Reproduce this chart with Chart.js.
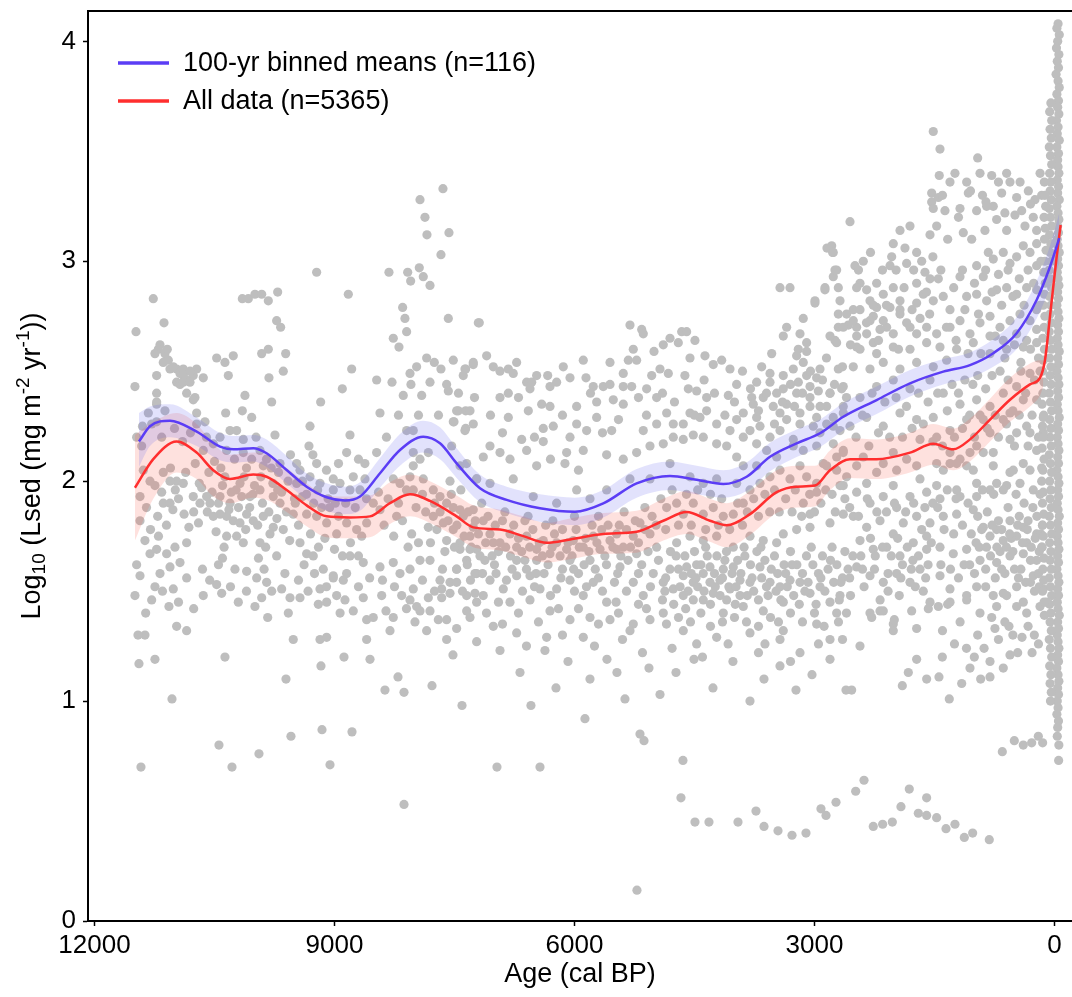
<!DOCTYPE html>
<html>
<head>
<meta charset="utf-8">
<script src="https://cdn.jsdelivr.net/npm/chart.js@4.4.1/dist/chart.umd.min.js"></script>
<style>
  html, body { margin: 0; padding: 0; background: #fff; overflow: hidden; }
  canvas { display: block; }
</style>
</head>
<body>
<canvas id="chart" width="1072" height="997"></canvas>
<script>
// axis ticks
const xTicks = [12000, 9000, 6000, 3000, 0];
const yTicks = [0, 1, 2, 3, 4];

// 100-yr binned means: smooth fit + confidence band
const blueAge  = [11444,11306,11056,10722,10431,10265,10015,9848,9598,9348,9098,8869,8681,8431,8181,7890,7681,7473,7181,6848,6431,5994,5640,5223,4806,4473,4140,3848,3556,3223,2931,2640,2223,1806,1390,1056,765,473,223,56,-60];
const blueMean = [2.18,2.25,2.275,2.225,2.157,2.145,2.15,2.127,2.051,1.975,1.927,1.912,1.93,2.036,2.142,2.202,2.172,2.081,1.968,1.915,1.877,1.861,1.899,1.99,2.024,2.006,1.987,2.02,2.111,2.172,2.218,2.293,2.369,2.445,2.498,2.528,2.582,2.673,2.824,2.975,3.105];
const blueLo   = [2.065,2.16,2.20,2.16,2.095,2.085,2.09,2.065,1.99,1.915,1.865,1.85,1.865,1.97,2.07,2.13,2.10,2.015,1.905,1.855,1.815,1.80,1.835,1.925,1.96,1.94,1.925,1.955,2.045,2.11,2.155,2.23,2.305,2.385,2.44,2.47,2.52,2.60,2.74,2.88,2.99];
const blueHi   = [2.31,2.34,2.35,2.29,2.22,2.205,2.21,2.19,2.115,2.035,1.99,1.975,1.995,2.105,2.215,2.275,2.245,2.15,2.03,1.975,1.94,1.925,1.96,2.055,2.09,2.07,2.05,2.085,2.175,2.235,2.28,2.355,2.43,2.505,2.555,2.585,2.645,2.745,2.91,3.07,3.22];

// all data: smooth fit + confidence band
const redAge  = [11494,11265,10973,10723,10515,10306,10015,9848,9598,9348,9098,8806,8556,8306,8056,7806,7473,7265,6931,6640,6348,6056,5640,5223,4890,4598,4306,4098,3806,3473,3223,2994,2806,2556,2223,1806,1515,1265,1056,806,556,306,181,119,56,-27,-77];
const redMean = [1.97,2.10,2.18,2.13,2.05,2.01,2.03,2.02,1.96,1.89,1.84,1.835,1.84,1.90,1.94,1.91,1.84,1.79,1.78,1.75,1.72,1.735,1.76,1.77,1.82,1.86,1.82,1.80,1.85,1.95,1.975,1.98,2.05,2.10,2.10,2.13,2.17,2.145,2.19,2.28,2.37,2.44,2.47,2.55,2.75,3.02,3.165];
const redBandAge = [11494,11265,10973,10723,10515,10306,10015,9848,9598,9348,9098,8806,8556,8306,8056,7806,7473,7265,6931,6640,6348,6056,5640,5223,4890,4598,4306,4098,3806,3473,3223,2994,2806,2556,2223,1806,1515,1265,1056,806,556,306,181,140];
const redLo   = [1.73,1.92,2.04,2.01,1.93,1.90,1.925,1.915,1.86,1.795,1.745,1.74,1.745,1.805,1.84,1.81,1.745,1.70,1.685,1.655,1.63,1.645,1.67,1.675,1.73,1.76,1.725,1.70,1.755,1.855,1.88,1.885,1.96,2.015,2.01,2.04,2.075,2.05,2.09,2.18,2.27,2.34,2.39,2.43];
const redHi   = [2.21,2.27,2.31,2.26,2.17,2.12,2.13,2.12,2.06,1.99,1.935,1.93,1.935,1.995,2.03,2.00,1.935,1.89,1.87,1.84,1.81,1.83,1.855,1.865,1.92,1.955,1.92,1.90,1.955,2.05,2.07,2.07,2.14,2.195,2.19,2.22,2.26,2.24,2.285,2.375,2.47,2.535,2.55,2.55];

// individual samples [age cal BP, log10 Lsed]
const ptsEarly = [
[11481,2.68],[11265,2.83],[11131,2.72],[11494,2.43],
[11181,2.62],[11202,2.60],[11119,2.58],[11077,2.55],[11140,2.54],[11056,2.51],[10973,2.51],[10931,2.49],[10890,2.48],[10848,2.46],
[10973,2.45],[10931,2.44],[10765,2.48],[10723,2.51],[10640,2.47],[11223,2.48],[11244,2.58],[11090,2.60],[11015,2.52],[10890,2.51],
[10806,2.50],[10890,2.45],[10806,2.45],[10744,2.38],[10848,2.40],[11223,2.40],[11223,2.35],[10723,2.31],[10765,2.37],
[10473,2.56],[10369,2.54],[10265,2.57],[10327,2.48],[10119,2.39],[10360,2.31],[10152,2.32],[10035,2.29],[9910,2.58],[9827,2.60],
[9610,2.58],[9819,2.47],[9640,2.50],[9785,2.36],[10152,2.83],[10077,2.83],[9994,2.85],[9910,2.85],[9827,2.82],[9710,2.86],
[9723,2.73],[9673,2.70],[9223,2.95],[8827,2.85],[8785,2.51],[8902,2.42],[9173,2.36],[9306,2.25],[8806,2.21],[9319,2.16],[8848,2.13],
[11327,2.31],[11285,2.26],[11410,2.16],[11473,2.20],[11223,2.27],[11119,2.32],[11223,2.36],[10723,2.26],[10619,2.27],[10640,2.14],
[10515,2.17],[10431,2.20],[10306,2.23],[10223,2.23],[10140,2.19],[10348,2.14],[10140,2.13],[10035,2.10],[9931,2.14],[9890,2.07],
[9744,2.21],[9681,2.08],[9473,2.08],[9431,2.05],[9306,2.02],[9223,2.08],[9181,1.99],[9015,2.01],[8931,1.99],[8765,2.02],[8619,2.01],
[8806,1.96],[8681,1.96],[9473,1.99],[9015,1.96],
[11431,1.93],[11431,1.82],[11369,1.73],[10431,1.85],[10515,1.84],[10348,1.84],[10265,1.82],[10181,1.81],[10098,1.85],[10015,1.82],
[9890,1.84],[9765,1.79],[9640,1.78],[9806,1.76],[10348,1.75],[10223,1.75],[10140,1.72],[9931,1.72],[9723,1.66],[9431,1.72],[9348,1.67],
[9265,1.66],[9140,1.60],[9015,1.57],[8890,1.55],[8848,1.58],[8806,1.66],[8640,1.63],
[10973,2.00],[11056,2.00],[11140,1.90],[11056,1.90],[11140,2.04],[11244,1.98],[11306,2.00],[10890,1.99],[10765,1.93],[10681,1.90],
[10598,1.93],[10556,1.90],[10431,1.93],[10306,1.90],[10181,1.99],[10056,1.93],[9931,1.96],[9765,1.93],[9681,1.90],[9515,1.85],
[9348,1.85],[9223,1.84],[9098,1.81],[8973,1.76],[8848,1.81],[8723,1.78],[8598,1.81],
[11473,1.62],[11431,1.57],[11306,1.67],[11223,1.69],[11098,1.67],[10994,1.70],[10931,1.63],[10848,1.72],[11181,1.58],[11056,1.61],
[10848,1.56],[10244,1.60],[10098,1.59],[9973,1.56],
[11494,1.48],[11285,1.46],[11244,1.52],[11015,1.51],[11069,1.43],[10640,1.48],[10473,1.53],[10410,1.49],[10202,1.45],[9994,1.43],
[9910,1.47],[9848,1.54],[9785,1.50],[9660,1.51],[9556,1.47],[9431,1.47],[9577,1.40],[9835,1.38],[9515,1.28],[9202,1.44],[9098,1.45],
[9181,1.51],[9015,1.56],[8973,1.48],[8869,1.46],[8765,1.41],[8640,1.47],[8598,1.37],
[10973,1.34],[10848,1.32],[11369,1.30],[9181,1.28],[9098,1.29],
[11444,1.17],[11244,1.19],[11031,1.01],[11419,0.70],[10444,0.80],[10281,0.70],[9944,0.76],[10369,1.20],[9606,1.10],[9544,0.84],
[9156,0.87],[9056,0.71],[8781,0.86],[9169,1.16],[8881,1.20],[11456,1.30],[8556,1.19],
[11390,2.05],[11350,1.88],[11300,1.78],[11210,1.84],[11160,1.95],[11100,1.80],[11020,1.87],[10950,1.92],[10880,1.85],[10820,1.79],
[10760,1.86],[10700,1.81],[10660,1.97],[10590,1.86],[10530,1.95],[10480,1.77],[10400,1.98],[10380,1.70],[10320,1.87],[10290,1.95],
[10200,1.88],[10160,1.93],[10110,1.78],[10060,1.88],[10000,1.98],[9960,1.80],[9900,1.90],[9860,1.70],[9820,1.86],[9770,1.99],
[9720,1.83],[9660,1.95],[9600,1.86],[9560,1.73],[9500,1.92],[9450,1.80],[9400,1.93],[9380,1.62],[9300,1.76],[9260,1.90],[9200,1.70],
[9160,1.88],[9120,1.74],[9060,1.88],[9000,1.69],[8950,1.84],[8900,1.66],[8860,1.90],[8800,1.72],[8740,1.88],[8700,1.66],[8660,1.75],
[8600,1.92],[8560,1.56],
[11400,2.25],[11160,2.20],[11000,2.24],[10900,2.18],[10800,2.22],[10600,2.20],[10500,2.09],[10420,2.06],[10250,2.10],[10100,2.06],
[9980,2.20],[9850,2.10],[9700,2.04],[9550,2.12],[9400,2.00],[9270,2.12],[9100,2.05],[8950,2.08],[8700,2.10],[8620,2.08],
[11360,1.40],[11150,1.50],[10950,1.45],[10760,1.42],[10560,1.55],[10300,1.52],[10100,1.50],[9880,1.60],[9620,1.58],[9450,1.55],
[9330,1.50],[9100,1.52],[8930,1.40],[8700,1.52],[10650,1.60],[10450,1.62],[9950,1.65],[9250,1.58],[11200,1.75],[10400,1.65],
[11050,2.06],[10990,1.96],[10860,2.04],[10740,2.08],[10690,1.99],[10570,2.04],[10450,1.90],[10370,2.02],[10230,1.96],[10130,2.02],
[10020,1.94],[9920,2.02],[9790,2.06],[9710,1.96],[9580,2.00],[9490,1.90],[9350,1.94],[9210,1.96],[9080,1.92],[8990,1.90]
];

const ptsMid = [
[8473,2.46],[8281,2.45],[8140,2.39],[8431,2.31],[8148,2.79],[8119,2.74],[8265,2.65],[8194,2.61],[8098,2.68],[8056,2.49],[7973,2.52],
[8044,2.44],[7910,2.39],[7848,2.56],[7752,2.54],[7669,2.51],[7806,2.45],[7598,2.44],[7577,2.41],[7577,2.74],[8319,2.95],[8085,2.95],
[7940,2.97],[7890,2.93],[7806,2.89],[8048,2.91],[7669,3.03],[7515,2.55],[7360,2.51],[7265,2.53],[7390,2.48],[7452,2.32],[7360,2.32],
[7506,2.27],[7360,2.24],[7202,2.72],[7931,3.28],[7644,3.33],[7869,3.20],[7569,3.13],[7844,3.12],
[8473,2.13],[8015,2.13],[7931,2.10],[7827,2.13],[8015,2.23],[8098,2.23],[7535,2.16],[7348,2.08],[7223,2.01],[7556,2.00],[8015,2.07],
[8181,1.99],[8265,2.01],[8056,2.02],[7890,2.01],[8015,1.96],[7765,1.96],[7681,1.93],[7598,1.90],[7431,1.87],[7265,1.87],[7765,1.84],
[7640,1.81],[7515,1.78],[7306,1.75],[7223,1.69],[7431,1.69],[7598,1.73],[7827,1.79],[8035,1.76],[8223,1.84],[8431,1.87],[8515,1.90],
[8431,1.61],[8265,1.63],[8181,1.58],[8056,1.60],[7931,1.64],[7806,1.64],[7681,1.55],[7556,1.54],[7473,1.60],[7348,1.64],[7223,1.58],
[8410,1.48],[8356,1.41],[8265,1.38],[8306,1.32],[8160,1.48],[8056,1.46],[8015,1.51],[7973,1.43],[7931,1.41],[7827,1.47],[7806,1.41],
[7660,1.51],[7660,1.47],[7556,1.49],[7473,1.54],[7348,1.48],[7244,1.49],[7223,1.45],[7348,1.41],[7598,1.37],[7702,1.37],[7473,1.33],
[7994,1.36],[7848,1.32],[8598,1.28],[7598,1.28],[8515,1.38],
[8206,1.11],[8131,1.04],[7781,1.07],[8131,0.53],[7519,1.21],[7406,0.98],[8369,1.05],
[7190,2.72],[5306,2.71],[5160,2.69],[5140,2.67],[5265,2.60],[5006,2.59],[5556,2.54],[5327,2.55],[5223,2.55],[5390,2.49],[5035,2.48],
[5890,2.55],[6140,2.52],[6056,2.47],[5856,2.47],[6335,2.48],[6473,2.48],[6723,2.54],[7098,2.57],[7265,2.54],[7369,2.51],[7015,2.52],
[6931,2.50],[6827,2.51],[6765,2.49],[6598,2.45],[6535,2.45],[6306,2.43],[6223,2.45],[5765,2.43],[5640,2.43],[5556,2.44],[5390,2.43],
[5285,2.43],[5098,2.42],[6931,2.38],[6827,2.40],[6556,2.42],[6410,2.35],[6306,2.34],[5973,2.34],[5723,2.36],[5515,2.37],[5390,2.35],
[7306,2.32],[7473,2.32],[7369,2.23],[7515,2.27],[7265,2.26],[6827,2.29],[6577,2.32],[6390,2.24],[6265,2.25],[5973,2.26],[5723,2.29],
[5535,2.23],[5848,2.23],[6056,2.20],[6390,2.18],[6660,2.19],[7056,2.16],[7140,2.11],[6931,2.13],[6806,2.10],[6598,2.14],[6473,2.07],
[6098,2.13],[6119,2.08],[5890,2.14],[5598,2.12],[5390,2.10],[5223,2.13],[5056,2.16],[5140,2.23],
[7431,2.07],[7223,2.01],[7056,1.99],[6765,2.01],[6515,1.93],[6223,1.90],[5973,1.96],[5806,1.92],[5598,1.96],[5306,2.01],[5056,2.01],
[7515,1.88],[7390,1.84],[7265,1.79],[7140,1.82],[7056,1.76],[6931,1.72],[6806,1.76],[6723,1.70],[6598,1.75],[6473,1.69],[6390,1.73],
[6306,1.67],[6223,1.72],[6098,1.69],[6015,1.73],[5890,1.70],[5765,1.75],[5681,1.69],[5556,1.73],[5473,1.76],[5390,1.70],[5265,1.75],
[5181,1.81],[5056,1.76],
[7431,1.72],[7306,1.69],[7181,1.66],[7015,1.72],[6723,1.64],[6473,1.64],[6056,1.64],[5806,1.64],[5473,1.69],[5223,1.67],
[7473,1.60],[7244,1.58],[7056,1.55],[6890,1.51],[6723,1.57],[6556,1.57],[6431,1.51],[6223,1.51],[6056,1.55],[5890,1.48],[5765,1.54],
[5598,1.45],[5431,1.61],[5265,1.54],[5140,1.48],[5015,1.58],
[5056,1.37],[5265,1.35],[5556,1.37],[5806,1.38],[6056,1.37],[6306,1.41],[6556,1.46],[6806,1.45],[7140,1.48],[7306,1.38],[7015,1.34],
[6723,1.31],[6348,1.29],[5890,1.29],[5306,1.32],[7223,1.27],
[6931,1.23],[6681,1.13],[6369,1.23],[6231,1.06],[6081,1.18],[5806,1.10],[5594,1.19],[5369,1.01],[5469,1.13],[5069,1.15],[6544,0.98],
[5869,0.92],[5181,0.85],[5131,0.82],[6969,0.70],[6431,0.70],[5219,0.14],
[8450,1.95],[8380,1.80],[8330,1.92],[8260,1.75],[8200,1.90],[8150,1.82],[8100,1.96],[8080,1.70],[7980,1.88],[7950,1.72],[7900,1.94],
[7860,1.86],[7800,1.72],[7750,1.90],[7720,1.78],[7680,1.86],[7620,1.68],[7580,1.82],[7540,1.94],[7500,1.70],[7470,1.80],[7420,1.96],
[7380,1.75],[7330,1.86],[7290,1.70],[7240,1.82],[7200,1.76],[7160,1.90],[7110,1.72],[7080,1.84],[7030,1.66],[6990,1.80],[6950,1.68],
[6900,1.82],[6860,1.70],[6800,1.66],[6760,1.80],[6700,1.74],[6660,1.68],[6620,1.82],[6560,1.70],[6520,1.78],[6440,1.72],[6400,1.66],
[6360,1.80],[6280,1.70],[6250,1.76],[6180,1.66],[6150,1.78],[6080,1.72],[6030,1.66],[5980,1.78],[5940,1.70],[5860,1.74],[5820,1.68],
[5780,1.80],[5720,1.72],[5660,1.78],[5620,1.66],[5580,1.80],[5520,1.70],[5440,1.80],[5420,1.66],[5350,1.78],[5300,1.70],[5240,1.82],
[5200,1.72],[5120,1.78],[5080,1.68],[5030,1.84],
[8400,1.55],[8250,1.52],[8100,1.42],[7900,1.55],[7750,1.50],[7650,1.60],[7400,1.50],[7300,1.55],[7150,1.58],[7000,1.62],[6950,1.45],
[6850,1.55],[6650,1.50],[6600,1.60],[6500,1.52],[6380,1.58],[6300,1.48],[6150,1.60],[6000,1.50],[5950,1.58],[5850,1.52],[5700,1.56],
[5650,1.50],[5500,1.54],[5480,1.45],[5350,1.50],[5200,1.58],[5100,1.42],[5050,1.52],[7100,1.40],[6900,1.35],[6700,1.40],[6450,1.36],
[6200,1.42],[5950,1.42],[5700,1.35],[5450,1.40],[5200,1.44],[6600,1.25],[6150,1.30],[5750,1.25],[5400,1.28],[5150,1.22],
[8350,2.20],[8200,2.30],[7950,2.30],[7700,2.30],[7450,2.40],[7250,2.38],[7050,2.30],[6900,2.22],[6700,2.38],[6500,2.20],[6300,2.10],
[6150,2.30],[5950,2.05],[5800,2.40],[5650,2.22],[5450,2.28],[5200,2.38],[5100,2.30],
[7340,1.62],[7120,1.64],[6980,1.58],[6780,1.60],[6620,1.64],[6480,1.58],[6330,1.62],[6170,1.56],[6010,1.60],[5880,1.62],[5740,1.60],
[5600,1.62],[5460,1.58],[5330,1.64],[5160,1.62],[6870,1.86],[6580,1.84],[6270,1.82],[6000,1.84],[5700,1.84],[5380,1.86],[5120,1.88]
];

const ptsLate = [
[4931,1.03],[4731,1.13],[4506,1.19],[4269,1.06],[4019,1.18],[3806,1.00],[3631,1.10],[3431,1.16],[3231,1.05],[3031,1.12],[2806,1.19],
[2606,1.05],[4644,0.73],[4669,0.56],[4494,0.45],[4319,0.45],[3956,0.45],[3731,0.50],[3631,0.43],[3456,0.41],[3281,0.39],[3106,0.40],
[2919,0.51],[2856,0.48],[2731,0.54],[3619,1.26],[3181,1.22],[2806,1.28],
[2773,3.04],[2723,2.96],[2765,2.93],[3431,2.88],[3306,2.88],[2869,2.87],[2994,2.81],[2702,2.76],[3140,2.74],[3348,2.70],[3181,2.67],
[3390,2.66],[3098,2.63],[2744,2.64],[2702,2.70],[3202,2.60],[3098,2.59],[3223,2.57],[3535,2.58],[3140,2.54],[3265,2.51],[3660,2.52],
[3556,2.49],[3390,2.48],[3098,2.48],[2931,2.51],[2702,2.51],[2973,2.47],[3056,2.43],[3202,2.45],[3390,2.42],[3556,2.45],[3723,2.45],
[3785,2.38],[3640,2.38],[3473,2.40],[3223,2.40],[2952,2.41],[2806,2.40],[2660,2.42],[2640,2.34],[2848,2.34],[3056,2.34],[3348,2.35],
[3515,2.34],[3765,2.35],[3890,2.31],[3723,2.29],[3431,2.31],[3181,2.31],[2973,2.29],[2765,2.29],[2577,2.71],[2702,2.88],
[4660,2.68],[4598,2.68],[4806,2.65],[4494,2.64],[4890,2.62],[4702,2.63],[4369,2.57],[4556,2.56],[4265,2.53],[4160,2.55],[4056,2.51],
[4931,2.51],[4827,2.49],[4973,2.38],[4577,2.42],[4473,2.41],[4348,2.38],[4077,2.39],[3973,2.44],[4890,2.17],[4765,2.20],[4640,2.19],
[4515,2.21],[4390,2.20],[4223,2.17],[4098,2.16],[4640,2.26],[4431,2.29],[4223,2.26],[4348,2.32],[4556,2.31],[4765,2.26],[4848,2.31],
[4973,2.26],[4056,2.23],[3973,2.28],[3890,2.20],[3806,2.23],[3681,2.25],[3556,2.20],[3431,2.23],[3723,2.17],[3598,2.14],[3973,2.11],
[3890,2.07],[3348,2.28],[3181,2.26],[3015,2.25],[2848,2.26],[2681,2.23],[3265,2.19],[3140,2.14],[2973,2.16],[2765,2.17],
[4806,2.08],[4556,2.02],[4390,1.99],[4223,2.01],[3973,1.99],[3723,2.07],[3473,2.11],[3265,2.16],
[4848,1.88],[4723,1.90],[4640,1.85],[4515,1.90],[4390,1.85],[4265,1.88],[4140,1.84],[4015,1.85],[3890,1.90],[3806,1.96],[3681,1.99],
[3556,2.02],[3431,2.05],[3306,2.01],[3181,2.07],[3098,2.02],[2973,1.99],[2848,2.07],[2723,2.11],[2640,2.14],[2598,2.02],[3140,1.90],
[3056,1.85],[4015,1.70],[4223,1.75],[4973,1.70],[4723,1.72],[4556,1.75],[4390,1.73],[3806,1.75],[3640,1.73],[3473,1.72],[3390,1.76],
[3223,1.78],[3056,1.79],[2806,1.81],[2640,1.85],
[4806,1.60],[4640,1.57],[4515,1.54],[4390,1.58],[4306,1.54],[4181,1.55],[4056,1.51],[3931,1.55],[3806,1.54],[3681,1.61],[3556,1.54],
[3431,1.52],[3306,1.55],[3181,1.54],[3056,1.49],[2931,1.52],[2806,1.45],[2681,1.48],[3390,1.45],[3640,1.41],[3890,1.43],[4140,1.40],
[4390,1.46],[4640,1.48],[4890,1.40],[4640,1.32],[4223,1.29],[3806,1.31],[3390,1.32],[2973,1.35],[2723,1.40],[4473,1.26],[3431,1.28],
[4598,1.61],[4473,1.62],[4306,1.61],[4140,1.60],[4015,1.61],[3931,1.48],[4098,1.46],[4265,1.49],[4515,1.46],[4765,1.51],[4890,1.54],
[2844,3.06],[2785,3.07],[2765,3.04],[2869,2.88],[2494,2.98],[2390,3.00],[2994,2.82],[2744,2.96],[2681,2.82],[2598,2.76],[2431,2.90],
[2306,2.82],[2223,2.79],[2265,2.75],[2515,2.78],[2640,2.70],[2473,2.70],[2806,2.66],[2723,2.63],[2473,2.61],[2265,2.63],[2098,2.70],
[2015,2.67],[1931,2.78],[1806,2.70],[1723,2.81],[2556,3.18],
[1515,3.59],[1535,3.31],[1535,3.27],[1515,3.24],[1556,3.12],[1931,3.14],[1806,3.16],[2015,3.08],[1869,3.06],[1723,3.04],[1848,2.99],
[2056,2.98],[2035,3.02],[1723,2.90],[1619,2.95],[1556,2.92],[2473,2.88],[2348,2.87],[2223,2.90],[2140,2.85],[2015,2.88],[1931,2.82],
[2056,2.79],[2265,2.80],[2431,2.78],[2515,2.73],[2306,2.73],[2140,2.73],[1931,2.76],[1640,2.85],[1515,2.82],[2473,2.66],[2348,2.67],
[2181,2.69],[1848,2.72],[1723,2.67],[1598,2.70],[2431,2.60],[2223,2.58],[2015,2.61],[1806,2.60],[1598,2.63],[2515,2.52],[2306,2.51],
[2140,2.54],[1931,2.51],[1723,2.54],[1515,2.52],
[3056,2.38],[2931,2.34],[2806,2.40],[2640,2.43],[2431,2.38],[2223,2.43],[2015,2.46],[1806,2.42],[1556,2.46],[2640,2.31],[1515,2.29],
[1723,2.28],[1931,2.31],[2140,2.25],[2348,2.29],[2556,2.25],[2765,2.25],[2931,2.22],
[2890,2.08],[2640,2.13],[2390,2.11],[2140,2.08],[2015,2.13],[1848,2.10],[1681,2.19],[2723,2.05],[2473,2.07],[2223,2.04],[1973,2.05],
[1723,2.07],
[2973,1.95],[2640,1.98],[2348,1.99],[2015,1.98],[1681,2.01],[2473,1.95],[2306,1.90],[2140,1.93],[1973,1.88],[1806,1.93],[1598,1.95],
[2515,1.84],[2348,1.79],[2181,1.82],[2015,1.76],[1890,1.81],[1723,1.84],[1556,1.81],[1598,1.75],[2431,1.73],[2265,1.69],[2098,1.70],
[1931,1.66],[1765,1.72],[1598,1.69],[2473,1.61],[2306,1.57],[2140,1.54],[1973,1.58],[1806,1.54],[1681,1.60],[1556,1.45],[2306,1.40],
[2181,1.41],[2015,1.35],
[2381,0.64],[2485,0.59],[2265,0.43],[2148,0.44],[2027,0.45],[1919,0.52],[1815,0.60],[1702,0.49],[1598,0.48],[1598,0.56],[1902,1.07],
[1827,1.13],[1723,1.19],[1598,1.10],[2535,1.05],[2431,1.25],[1723,1.33],[2015,1.32],[2002,1.37],[2285,1.38],[2140,1.41],[1785,1.41],
[1577,1.42],
[4950,1.64],[4900,1.46],[4860,1.56],[4800,1.68],[4760,1.44],[4700,1.60],[4680,1.52],[4620,1.66],[4580,1.50],[4540,1.58],[4500,1.68],
[4460,1.52],[4420,1.62],[4380,1.50],[4340,1.66],[4300,1.44],[4250,1.58],[4220,1.66],[4180,1.48],[4150,1.56],[4100,1.68],[4070,1.52],
[4030,1.58],[3990,1.44],[3960,1.64],[3920,1.58],[3870,1.66],[3840,1.48],[3800,1.62],[3760,1.50],[3720,1.68],[3700,1.46],[3660,1.56],
[3620,1.64],[3580,1.48],[3540,1.60],[3500,1.66],[3460,1.58],[3420,1.46],[3380,1.62],[3340,1.52],[3300,1.68],[3260,1.48],[3220,1.62],
[3190,1.44],[3150,1.58],[3100,1.66],[3080,1.54],[3020,1.62],[2980,1.44],[2950,1.58],[2900,1.66],[2870,1.50],[2830,1.60],[2780,1.70],
[2760,1.54],[2720,1.62],[2690,1.46],[2650,1.56],[2620,1.68],[2580,1.60],[2550,1.48],[2520,1.66],
[4850,1.35],[4700,1.38],[4550,1.36],[4420,1.40],[4300,1.34],[4150,1.36],[4000,1.38],[3850,1.36],[3700,1.34],[3550,1.38],[3450,1.36],
[3300,1.40],[3150,1.36],[3000,1.40],[2880,1.34],[2700,1.36],[2600,1.40],[4780,1.24],[4400,1.20],[4080,1.26],[3700,1.22],[3300,1.18],
[2950,1.26],[2650,1.28],
[4980,1.80],[4920,1.92],[4860,1.78],[4780,1.96],[4700,1.80],[4600,1.94],[4540,1.80],[4460,1.96],[4360,1.78],[4300,1.94],[4200,1.80],
[4160,1.92],[4060,1.78],[3960,1.90],[3900,1.80],[3840,1.86],[3760,1.92],[3700,1.84],[3620,1.94],[3560,1.86],[3500,1.96],[3440,1.86],
[3360,1.92],[3280,1.86],[3240,1.96],[3160,1.84],[3060,1.94],[3000,1.86],[2920,1.90],[2860,1.96],[2780,1.94],[2740,1.86],[2680,1.98],
[2620,1.92],[2560,1.88],
[4900,2.40],[4750,2.36],[4620,2.48],[4500,2.30],[4380,2.46],[4250,2.40],[4120,2.30],[4000,2.36],[3900,2.50],[3800,2.42],[3700,2.32],
[3600,2.40],[3500,2.26],[3400,2.36],[3300,2.44],[3250,2.34],[3150,2.40],[3050,2.50],[2900,2.46],[2850,2.56],[2750,2.44],[2650,2.52],
[2600,2.38],[2550,2.62],
[2450,1.84],[2420,1.66],[2380,1.52],[2340,1.92],[2300,1.74],[2250,1.60],[2220,1.86],[2180,1.46],[2150,1.70],[2100,1.86],[2080,1.58],
[2040,1.66],[2000,1.90],[1960,1.74],[1940,1.48],[1900,1.62],[1860,1.86],[1840,1.70],[1790,1.60],[1760,1.90],[1740,1.52],[1700,1.66],
[1660,1.78],[1640,1.50],[1620,1.88],[1580,1.62],[1540,1.72],[1520,1.90],
[2480,2.20],[2400,2.30],[2320,2.16],[2280,2.40],[2200,2.22],[2120,2.36],[2060,2.20],[1980,2.38],[1900,2.20],[1850,2.34],[1780,2.24],
[1700,2.40],[1640,2.26],[1580,2.36],[1520,2.18],
[2450,2.96],[2350,2.72],[2300,3.04],[2200,2.64],[2150,2.96],[2100,2.80],[1980,2.96],[1950,2.60],[1880,2.88],[1780,2.78],[1760,2.96],
[1680,2.74],[1660,3.00],[1600,2.86],[1560,2.76],[1520,3.02],
[4870,1.50],[4730,1.66],[4610,1.42],[4480,1.56],[4360,1.70],[4240,1.52],[4120,1.64],[3980,1.52],[3880,1.70],[3780,1.56],[3670,1.70],
[3600,1.52],[3480,1.50],[3360,1.58],[3280,1.62],[3120,1.50],[3040,1.70],[2920,1.56],[2800,1.64],[2670,1.54],[2560,1.56],[2400,1.60],
[2240,1.66],[2080,1.50],[1920,1.56],[1770,1.64],[1610,1.56]
];

const ptsRecent = [
[1431,3.51],[960,3.47],[1440,3.39],[1244,3.40],[1306,3.36],[1098,3.36],[931,3.40],[785,3.39],[598,3.40],[556,3.36],[1452,3.29],
[1077,3.31],[856,3.27],[765,3.25],[660,3.31],[473,3.29],[327,3.32],[244,3.28],[127,3.36],[1369,3.23],[1181,3.24],[973,3.23],[848,3.25],
[1473,3.16],[1335,3.10],[1140,3.13],[1035,3.10],[869,3.14],[723,3.19],[598,3.14],[494,3.21],[410,3.23],[369,3.16],[265,3.20],[223,3.14],
[1452,2.92],[1181,2.93],[973,2.98],[890,2.93],[827,3.04],[765,3.01],[640,3.04],[556,2.99],[473,3.02],[390,3.07],[306,3.04],[223,3.08],
[223,2.98],[1390,2.84],[1306,2.78],[1098,2.84],[973,2.85],[848,2.82],[723,2.87],[598,2.88],[473,2.85],[348,2.88],[223,2.87],
[1473,2.67],[1306,2.70],[1181,2.73],[1056,2.67],[931,2.72],[806,2.75],[681,2.70],[556,2.73],[431,2.76],[306,2.73],[223,2.78],
[1431,2.61],[1223,2.60],[1015,2.63],[806,2.66],[640,2.64],[473,2.67],[348,2.64],[223,2.69],
[1348,2.55],[806,2.58],[598,2.60],[390,2.61],[223,2.63],
[1390,2.40],[1181,2.35],[973,2.37],[806,2.34],[640,2.40],[473,2.43],[306,2.49],[223,2.37],[140,2.29],[306,2.22],[473,2.22],[640,2.28],
[890,2.28],[1098,2.28],[1306,2.23],
[1473,2.20],[1306,2.13],[1181,2.10],[973,2.16],[806,2.22],[556,2.31],[390,2.37],[890,2.13],[1473,2.08],[1223,2.08],[1056,2.13],
[1390,2.05],[1098,2.07],[765,2.13],[556,2.19],[348,2.25],[140,2.22],[223,2.14],[390,2.08],[556,2.04],[723,1.99],[973,1.99],[1223,1.96],
[1473,1.98],[1431,1.92],[1181,1.93],[973,1.93],[806,1.96],[598,1.98],[431,1.99],[265,1.96],[306,2.05],[515,2.05],[765,2.07],[1015,2.05],
[1306,2.08],[1390,1.84],[1223,1.85],[1015,1.87],[890,1.79],[723,1.78],[556,1.82],[390,1.79],[223,1.76],[348,1.72],[473,1.75],[640,1.73],
[806,1.75],[1431,1.70],[1265,1.67],[1098,1.69],[931,1.64],[723,1.63],[556,1.66],[390,1.67],[223,1.64],
[1431,1.57],[1306,1.51],[1098,1.48],[973,1.52],[765,1.48],[640,1.49],[473,1.52],[390,1.45],[265,1.57],[140,1.51],[181,1.43],[98,1.45],
[1306,1.45],[723,1.43],[598,1.48],
[1315,1.01],[1444,1.11],[1402,1.20],[1160,1.08],[1056,1.15],[1002,1.20],[923,1.10],[806,1.11],[806,1.18],[640,1.15],[556,1.21],[460,1.22],
[406,1.29],[252,1.30],[1452,1.43],[1335,1.44],[1098,1.46],[931,1.40],[785,1.38],[744,1.33],[569,1.34],[473,1.43],[348,1.40],[127,1.39],
[1473,0.47],[1356,0.42],[1244,0.44],[1127,0.38],[1023,0.40],[815,0.37],[652,0.77],[502,0.82],[390,0.80],[285,0.81],[202,0.84],[148,0.81],
[-52,0.73],
[1400,3.30],[1200,3.20],[1050,3.32],[900,3.30],[700,3.36],[620,3.22],[430,3.36],[300,3.26],[180,3.40],[160,3.30],
[1420,2.96],[1350,2.70],[1260,2.88],[1230,2.64],[1150,2.96],[1120,2.78],[1080,2.58],[1000,2.90],[950,2.76],[920,2.58],[860,2.96],
[780,2.86],[740,2.66],[700,2.94],[660,2.80],[620,2.56],[580,2.96],[520,2.84],[500,2.62],[440,2.92],[420,2.54],[380,2.80],[330,2.96],
[300,2.60],[260,2.90],[200,2.56],[180,2.80],[170,3.00],
[1460,2.40],[1400,2.16],[1340,2.32],[1280,2.44],[1250,2.20],[1200,2.40],[1150,2.24],[1120,2.46],[1060,2.30],[1020,2.44],[1000,2.20],
[960,2.48],[930,2.30],[860,2.42],[840,2.24],[780,2.48],[740,2.30],[700,2.20],[680,2.50],[600,2.26],[580,2.46],[520,2.32],[500,2.16],
[440,2.30],[420,2.50],[360,2.40],[330,2.16],[280,2.30],[250,2.46],[200,2.20],[180,2.50],[160,2.06],
[1460,1.88],[1420,1.62],[1380,1.78],[1340,1.96],[1300,1.60],[1260,1.76],[1230,1.92],[1200,1.56],[1150,1.80],[1130,1.62],[1080,1.90],
[1040,1.76],[1000,1.58],[960,1.84],[940,1.70],[900,1.96],[860,1.60],[840,1.86],[800,1.66],[760,1.94],[740,1.56],[700,1.82],[680,1.68],
[640,1.96],[620,1.58],[580,1.88],[540,1.74],[500,1.60],[480,1.94],[440,1.84],[420,1.60],[380,1.90],[360,1.54],[330,1.82],[300,1.64],
[270,1.88],[250,1.50],[220,1.84],[200,1.58],[180,1.94],[160,1.70],[150,1.80],
[1400,1.32],[1250,1.26],[1180,1.36],[1100,1.24],[960,1.30],[880,1.24],[700,1.28],[620,1.36],[520,1.30],[330,1.34],[280,1.22],[200,1.26],
[980,1.72],[910,1.78],[850,1.70],[780,1.80],[720,1.70],[660,1.78],[600,1.70],[560,1.76],[520,1.68],[460,1.80],[400,1.72],[340,1.78],
[290,1.70],[240,1.74],[190,1.68],[170,1.76],[1060,1.62],[860,1.52],[660,1.60],[450,1.56],[300,1.54],[190,1.52]
];

// dense column of modern samples
const ptsSpikeA = [
[-45,4.08],[-30,4.06],[-60,4.03],[-40,4.00],[-25,3.97],[-55,3.94],[-35,3.91],[-50,3.88],[-20,3.85],[-45,3.82],[-60,3.79],[-30,3.76],
[-50,3.73],[-40,3.70],[-55,3.67],[-25,3.64],[-45,3.61],[-35,3.58],[-60,3.55],[-30,3.52],[-50,3.49],[-40,3.46],[-45,3.43],[-55,3.40],
[-35,3.37],[-50,3.34],[-40,3.31],[-60,3.28],[-30,3.25],[-45,3.22],[-55,3.19],[-40,3.16],[-50,3.13],[-35,3.10],[-45,3.07],[-60,3.04],
[-40,3.01],[-50,2.98],[-35,2.95],[-45,2.92],[-55,2.89],[-40,2.86],[-50,2.83],[-30,2.80],[-45,2.77],[-55,2.74],[-40,2.71],[-50,2.68],
[-35,2.65],[-45,2.62],[-60,2.59],[-40,2.56],[-50,2.53],[-30,2.50],[-45,2.47],[-55,2.44],[-40,2.41],[-50,2.38],[-35,2.35],[-45,2.32],
[-60,2.29],[-40,2.26],[-50,2.23],[-35,2.20],[-45,2.17],[-55,2.14],[-40,2.11],[-50,2.08],[-30,2.05],[-45,2.02],[-55,1.99],[-40,1.96],
[-50,1.93],[-35,1.90],[-45,1.87],[-60,1.84],[-40,1.81],[-50,1.78],[-35,1.75],[-45,1.72],[-55,1.69],[-40,1.66],[-50,1.63],[-30,1.60],
[-45,1.57],[-55,1.54],[-40,1.51],[-50,1.48],[-35,1.45],[-45,1.42],[-60,1.39],[-40,1.36],[-50,1.33],[-35,1.30],[-45,1.27],[-55,1.24],
[-40,1.21],[-50,1.18],[-30,1.15],[-45,1.12],[-55,1.09],[-40,1.06],[-50,1.03],[-35,1.00],[-45,0.97],[-30,0.94],[-50,0.91],[-40,0.88],
[-35,0.84],[-55,0.80]
];
const ptsSpikeB = [
[45,3.72],[60,3.68],[35,3.64],[55,3.60],[40,3.56],[65,3.52],[50,3.48],[35,3.44],[60,3.40],[45,3.36],[55,3.32],[40,3.28],[65,3.24],
[50,3.20],[35,3.16],[60,3.12],[45,3.08],[55,3.04],[40,3.00],[65,2.96],[50,2.92],[35,2.88],[60,2.84],[45,2.80],[55,2.76],[40,2.72],
[65,2.68],[50,2.64],[35,2.60],[60,2.56],[45,2.52],[55,2.48],[40,2.44],[65,2.40],[50,2.36],[35,2.32],[60,2.28],[45,2.24],[55,2.20],
[40,2.16],[65,2.12],[50,2.08],[35,2.04],[60,2.00],[45,1.96],[55,1.92],[40,1.88],[65,1.84],[50,1.80],[35,1.76],[60,1.72],[45,1.68],
[55,1.64],[40,1.60],[65,1.56],[50,1.52],[35,1.48],[60,1.44],[45,1.40],[55,1.36],[40,1.32],[65,1.28],[50,1.24],[35,1.20],[60,1.16],
[45,1.12],[55,1.08],[40,1.04],[50,1.00]
];
const ptsSpikeC = [
[120,3.30],[110,3.25],[130,3.20],[115,3.15],[125,3.10],[105,3.05],[120,3.00],[135,2.95],[115,2.90],[125,2.85],[140,2.80],[120,2.75],
[130,2.70],[145,2.65],[125,2.60],[140,2.55],[150,2.50],[130,2.45],[145,2.40],[155,2.35],[135,2.30],[150,2.25],[140,2.20],[155,2.15],
[130,2.10],[145,2.05],[160,2.00],[140,1.95],[150,1.90],[135,1.85],[150,1.80],[140,1.75],[155,1.70],[130,1.65],[145,1.60],[135,1.55],
[150,1.50],[130,1.45]
];

const BLUE = '#5B3DF5';
const RED = '#FF2E2E';
const FONT = '"Liberation Sans", Arial, Helvetica, sans-serif';

const toXY = (xs, ys) => xs.map((x, i) => ({ x: x, y: ys[i] }));
const samples = [].concat(ptsEarly, ptsMid, ptsLate, ptsRecent, ptsSpikeA, ptsSpikeB, ptsSpikeC)
  .map(p => ({ x: p[0], y: p[1] }));

const smooth = { showLine: true, pointRadius: 0, cubicInterpolationMode: 'monotone' };

// frame line on top, legend and y title with sub/superscripts
const decor = {
  id: 'decor',
  afterDraw(chart) {
    const { ctx, chartArea: a } = chart;
    ctx.save();
    ctx.strokeStyle = '#000';
    ctx.lineWidth = 2;
    ctx.beginPath();
    ctx.moveTo(a.left - 1, a.top);
    ctx.lineTo(chart.width, a.top);
    ctx.stroke();

    // legend
    const items = [chart.data.datasets[0], chart.data.datasets[1]];
    ctx.font = '27px ' + FONT;
    ctx.textBaseline = 'middle';
    items.forEach((ds, i) => {
      const y = a.top + 52 + i * 38;
      ctx.strokeStyle = ds.borderColor;
      ctx.lineWidth = 3.5;
      ctx.beginPath();
      ctx.moveTo(a.left + 30, y);
      ctx.lineTo(a.left + 81, y);
      ctx.stroke();
      ctx.fillStyle = '#000';
      ctx.fillText(ds.label, a.left + 95, y + 1);
    });

    // y axis title
    const parts = [
      { t: 'Log' }, { t: '10', s: 'sub' }, { t: ' (Lsed (mg m' }, { t: '-2', s: 'sup' },
      { t: ' yr' }, { t: '-1', s: 'sup' }, { t: '))' }
    ];
    const big = '27px ' + FONT, small = '19px ' + FONT;
    let total = 0;
    parts.forEach(p => { ctx.font = p.s ? small : big; p.w = ctx.measureText(p.t).width; total += p.w; });
    ctx.translate(33, (a.top + a.bottom) / 2);
    ctx.rotate(-Math.PI / 2);
    ctx.fillStyle = '#000';
    ctx.textBaseline = 'middle';
    let x = -total / 2;
    parts.forEach(p => {
      ctx.font = p.s ? small : big;
      const dy = p.s === 'sub' ? 7 : (p.s === 'sup' ? -9 : 0);
      ctx.fillText(p.t, x, dy);
      x += p.w;
    });
    ctx.restore();
  }
};

new Chart(document.getElementById('chart'), {
  type: 'scatter',
  data: {
    datasets: [
      Object.assign({ label: '100-yr binned means (n=116)', data: toXY(blueAge, blueMean),
        borderColor: BLUE, borderWidth: 2.5, fill: false, order: 1 }, smooth),
      Object.assign({ label: 'All data (n=5365)', data: toXY(redAge, redMean),
        borderColor: RED, borderWidth: 2.5, fill: false, order: 2 }, smooth),
      Object.assign({ label: 'blue hi', data: toXY(blueAge, blueHi), borderColor: 'transparent', borderWidth: 0,
        backgroundColor: 'rgba(100,100,240,0.19)', fill: '+1', order: 3 }, smooth),
      Object.assign({ label: 'blue lo', data: toXY(blueAge, blueLo), borderColor: 'transparent', borderWidth: 0,
        fill: false, order: 3 }, smooth),
      Object.assign({ label: 'red hi', data: toXY(redBandAge, redHi), borderColor: 'transparent', borderWidth: 0,
        backgroundColor: 'rgba(250,90,70,0.18)', fill: '+1', order: 4 }, smooth),
      Object.assign({ label: 'red lo', data: toXY(redBandAge, redLo), borderColor: 'transparent', borderWidth: 0,
        fill: false, order: 4 }, smooth),
      { label: 'samples', data: samples, backgroundColor: '#BEBEBE', borderWidth: 0,
        pointRadius: 4.6, pointHoverRadius: 4.6, order: 10 }
    ]
  },
  options: {
    responsive: false,
    animation: false,
    events: [],
    layout: { autoPadding: false, padding: { top: 11, left: 0, right: 0, bottom: 0 } },
    plugins: { legend: { display: false }, tooltip: { enabled: false } },
    scales: {
      x: {
        type: 'linear',
        reverse: true,
        min: -219,
        max: 12081,
        afterBuildTicks: s => { s.ticks = xTicks.map(v => ({ value: v })); },
        afterFit: s => { s.height = 76; s.paddingLeft = 0; s.paddingRight = 0; },
        ticks: { autoSkip: false, maxRotation: 0, padding: 4, color: '#000',
          font: { family: FONT, size: 26 }, callback: v => String(v) },
        grid: { drawOnChartArea: false, drawTicks: true, tickLength: 5, tickColor: '#000', tickWidth: 1.5 },
        border: { display: true, color: '#000', width: 2 },
        title: { display: true, text: 'Age (cal BP)', color: '#000',
          font: { family: FONT, size: 27 }, padding: { top: 0, bottom: 6 } }
      },
      y: {
        type: 'linear',
        min: 0,
        max: 4.138,
        afterBuildTicks: s => { s.ticks = yTicks.map(v => ({ value: v })); },
        afterFit: s => { s.width = 88; s.paddingTop = 0; s.paddingBottom = 0; },
        ticks: { padding: 7, color: '#000', font: { family: FONT, size: 26 }, callback: v => String(v) },
        grid: { drawOnChartArea: false, drawTicks: true, tickLength: 5, tickColor: '#000', tickWidth: 1.5 },
        border: { display: true, color: '#000', width: 2 }
      }
    }
  },
  plugins: [decor]
});
</script>
</body>
</html>
